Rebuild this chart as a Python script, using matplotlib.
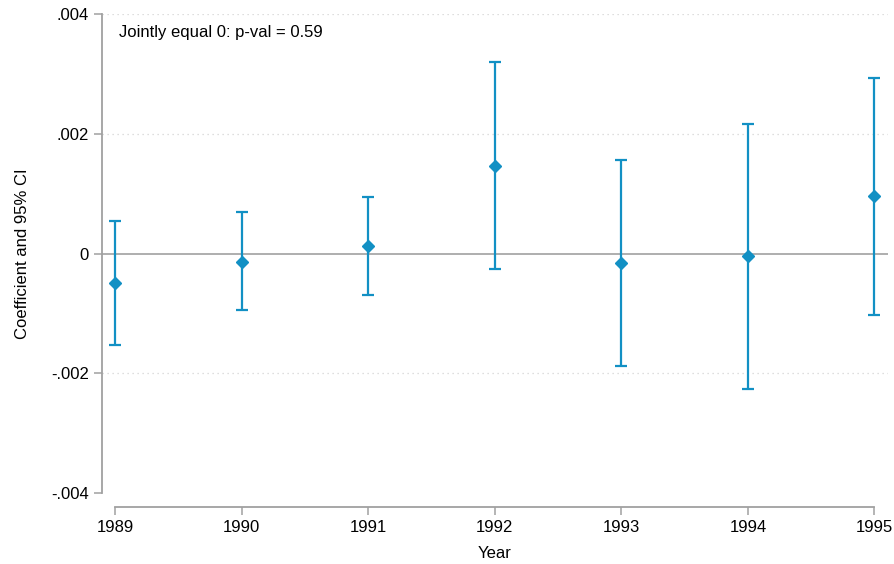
import numpy as np
import matplotlib.pyplot as plt

years = [1989, 1990, 1991, 1992, 1993, 1994, 1995]
coef = [-0.000494, -0.000139, 0.000117, 0.001464, -0.000161, -0.000044, 0.000952]
ci_low = [-0.001536, -0.000951, -0.000695, -0.000267, -0.00188, -0.002255, -0.001024]
ci_high = [0.000546, 0.000691, 0.000942, 0.003195, 0.00156, 0.002167, 0.002935]
yticks = [-0.004, -0.002, 0, 0.002, 0.004]
ytick_labels = ['-.004', '-.002', '0', '.002', '.004']

plt.rcParams['font.family'] = ['Liberation Sans', 'DejaVu Sans']
blue = '#1290c4'
gray = '#a0a0a0'

fig = plt.figure(figsize=(8.95, 5.64), dpi=100)
# axes in pixels: left 102, right 888, top 14, bottom 493
ax = fig.add_axes([102 / 895, 1 - 493 / 564, 786 / 895, 479 / 564])

coef = np.array(coef)
err = [coef - np.array(ci_low), np.array(ci_high) - coef]

# grid and zero line
for v in [0.004, 0.002, -0.002]:
    ax.axhline(v, color='#d4d4d4', lw=0.9, ls=(0, (1, 3)), zorder=0)
ax.axhline(0, color='#999999', lw=1.1, zorder=1)

ax.errorbar(years, coef, yerr=err, fmt='D', color=blue, ecolor=blue,
            ms=6.5, elinewidth=1.6, capsize=4.5, capthick=1.6, zorder=3)

ax.set_xlim(1989 - 13 / 126.5, 1995 + 13.5 / 126.5)
ax.set_ylim(-0.004, 0.004)

ax.spines['top'].set_visible(False)
ax.spines['right'].set_visible(False)
for s in ['left', 'bottom']:
    ax.spines[s].set_color(gray)
    ax.spines[s].set_linewidth(1.3)
ax.spines['bottom'].set_position(('outward', 10))
ax.spines['bottom'].set_bounds(1989, 1995)
ax.spines['left'].set_bounds(-0.004, 0.004)

ax.set_xticks(years)
ax.set_xticklabels([str(y) for y in years])
ax.set_yticks(yticks)
ax.set_yticklabels(ytick_labels)
ax.tick_params(colors=gray, labelcolor='black', labelsize=12, length=6, width=1.1)

ax.set_xlabel('Year', fontsize=12, labelpad=8)
ax.set_ylabel('Coefficient and 95% CI', fontsize=12, labelpad=15)

ax.text(0.021, 0.961, 'Jointly equal 0: p-val = 0.59', transform=ax.transAxes,
        fontsize=12, va='center', ha='left')

fig.savefig('out.png', dpi=100)
